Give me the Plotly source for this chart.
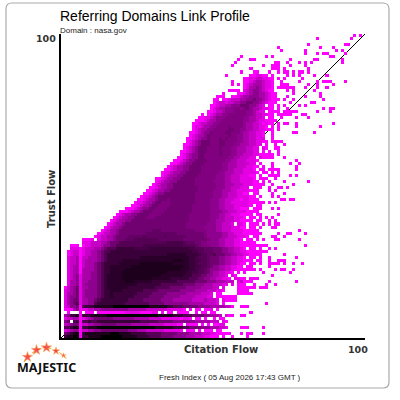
import plotly.graph_objects as go

TITLE = "Referring Domains Link Profile"
DOMAIN = "Domain : nasa.gov"
FOOT = "Fresh Index ( 05 Aug 2026 17:43 GMT )"
AXIS_MAX = 100
DIAGONAL = [0, 100]
LEVELS = {"0": 0, "1": 1, "2": 2, "3": 3, "4": 4, "5": 5, "6": 6, "7": 7, "8": 8, "9": 9, "a": 4.5, "b": 7.5, "c": 5.5, "d": 6.5}

# hand-read cells: trust flow row -> darkness digits by citation flow column,
# grouped in tens from column 0; '.' = empty; a=4.5 c=5.5 d=6.5 b=7.5
DENSE = {
86:".......... .......... .......... .......... .......... .......... ..001100..",
85:".......... .......... .......... .......... .......... .......... 0011221100",
84:".......... .......... .......... .......... .......... .......... 0012332110",
83:".......... .......... .......... .......... .......... ........0. 0123332110",
82:".......... .......... .......... .......... .......... .......... 0133432110",
81:".......... .......... .......... .......... .......... .....0000. 1234432100",
80:".......... .......... .......... .......... .......... ........00 1234433210",
79:".......... .......... .......... .......... .......... ......0012 3344433210",
78:".......... .......... .......... .......... .......... 00.0012223 3445443210",
77:".......... .......... .......... .......... .......... 0122122334 4554432100",
76:".......... .......... .......... .......... .........0 0122334445 5544321.00",
75:".......... .......... .......... .......... .........0 1233444aa4 a543321100",
74:".......... .......... .......... .......... ........00 1223444aaa a443211.00",
73:".......... .......... .......... .......... ......0.01 23344aaaaa a443221100",
72:".......... .......... .......... .......... .....00112 3444aaaaaa 4433221.00",
71:".......... .......... .......... .......... ....000123 344aaaaaaa 4433211000",
70:".......... .......... .......... .......... ...0012233 44aaaaaaaa 4332210100",
69:".......... .......... .......... .......... ...0112334 4aaaa5aaaa 43322110.0",
68:".......... .......... .......... .......... ...0123344 aaaaa55aa4 4332211000",
67:".......... .......... .......... .......... ..00123445 aaaa55aaa4 3322110...",
66:".......... .......... .......... .......... ..0123345a aaaaa5aa44 3322110...",
65:".......... .......... .......... .......... .00123445a aa5a5aaa44 3322111...",
64:".......... .......... .......... .......... .01234555a aa55aaaa44 33221100..",
63:".......... .......... .......... .......... 001234555a aa55aaa443 332211.0..",
62:".......... .......... .......... .......... 01234555aa aa5aaa4433 32211.10..",
61:".......... .......... .......... .........0 01234555aa aa5aaa4433 32211.0...",
60:".......... .......... .......... .........0 1234455aaa aa5aaa4433 2221100...",
59:".......... .......... .......... ........00 1234455aaa aaaaa44332 2211.10...",
58:".......... .......... .......... .......001 23445555aa aaaa443322 21110.....",
57:".......... .......... .......... ......0012 3445555aaa aaa4433322 2211.0....",
56:".......... .......... .......... .....01233 445555aaaa aaa4433322 21100.0...",
55:".......... .......... .......... ....001233 445555aaaa aaa4433222 1110.00...",
54:".......... .......... .......... ...0112334 455555aaaa aa44333222 11110.00..",
53:".......... .......... .......... ...0123344 55555aaaaa a444332221 1100.0....",
52:".......... .......... .......... .001233445 5555aaaaaa a444332221 1110.00...",
51:".......... .......... .......... .012334455 5555aaaaaa 4444332221 11100.0...",
50:".......... .......... .......... 0123344555 5555aaaaaa a444333222 1110000...",
49:".......... .......... .........0 0123344555 55555aaaaa a444332221 11.000....",
48:".......... .......... ........00 1233445555 55555aaaaa 4443332211 11000.....",
47:".......... .......... .......001 2344555555 5555aaaaaa 4443322211 00.00.....",
46:".......... .......... ......0112 3455555555 5555aaaaaa 4443322211 1100.0....",
45:".......... .......... .....00123 34555a5555 5555aaaaa4 4433222110 11000.....",
44:".......... .......... ....011233 455aaa5555 5555aaaaa4 4433221111 1100000...",
43:".......... .......... ...0012334 55aaaa5555 555aaaaaa4 4433222111 110.00....",
42:".......... .......... .000123445 5aaaa55555 555aaaaaa4 4433222110 00.000....",
41:".......... .........0 0012334555 aaaa555555 555aaaaaa4 4443322211 10000.....",
40:".......... ........01 233445555a aaa5555555 55aaaaaaa4 4433221110 000.00....",
39:".......... .......012 33445555aa a555555555 55aaaaaaa4 4433222111 0.00.0....",
38:".......... ......0123 3445555555 5555555555 55aaaaaaa4 4333222110 000.00....",
37:".......... .....01233 4555555555 5555555555 5aaaaaaa44 4332221.11 0.000.0...",
36:".......... ....012334 5555555555 5555555555 5aaaaaa444 4332221110 0.00.0....",
35:".......... ...0123345 5555555555 ccc5555555 5555aaaa44 4332221111 00000.....",
34:".......... ..01223345 55555555cc cccccccc55 5555555a44 4443322111 000000....",
33:".......... .012233455 55ccccc6cc cccc6ccccc c555555a44 4443322211 10.00.....",
32:".......000 1.12233455 5ccc666666 66cccccccc 55555555a4 4433222110 .00.0.....",
31:".......111 2223345556 6666666666 66666ddddd 6ccc55aa44 4433222110 0000......",
30:"...000.011 2223445566 6666666ddd dddddddddd 6666c5aaa4 4433222110 00000000..",
29:"...1110122 2334566677 7777ddddd7 7777777777 77dd666ccc 5554433221 0.00.0....",
28:"..01220122 3345667777 7777777777 7777777777 777dd66ccc 5554433221 10000000..",
27:"..01220122 3345677777 7777777777 77777bbbbb b7777d66cc 6555443322 110000....",
26:"..12230223 3345677777 777777bbbb bbbbbbbbbb bb77d666c5 5544332211 0.00.0....",
25:"..12230233 3345677777 bbbbbbbbbb bbbbbbb888 bb77dd66c5 5544332211 000.00....",
24:"..12230233 345677777b bbbbbb8888 8888888bbb bb77d666c5 5544332210 0.00.0....",
23:"..12330233 345677bbbb bbb8888888 8888888888 bb77dd66c5 4433221100 .00.......",
22:"..12330333 345677bbbb b888888888 888888888b bb77d66c54 4433221100 0000.0....",
21:"..12330333 445677bbbb 8888888888 88888bbbbb b77dd66c54 3322110.0. 0.........",
20:"..12341333 44567bbbbb 8888888888 888bbbbbbb 7776665544 33221.10.. ..........",
19:"..12341333 44567bbbbb 8888888888 bbbbbb7777 7766655443 322110.110 0.........",
18:"..13341334 44567bbbbb b888bbbbbb 7777777766 6666555544 4333222.12 ..........",
17:"..13341344 44567bbbbb bbbbb77777 7776666666 5555444333 22211.1... ..........",
16:".023451334 44567bbbbb bb77777777 7666665555 5444443333 22.1...... ..........",
15:".123451344 445677bbbb 7777777666 6655555554 4444333322 2110...... ..........",
14:".133451344 445677b777 7777766666 5555544444 4333332221 .00....... ..........",
13:".134451344 445677b777 7777666665 5555444443 3333222211 .0........ ..........",
12:".134551334 4567777777 7766666555 5554444333 3332222322 21.1...... ..........",
11:".134561334 4677777777 7666666665 5555444444 4433333222 21.0...... ..........",
10:".124450677 7888888999 9999999998 8888877666 5555544443 333322.... ..........",
9:".000340112 2334444444 4433333322 2222211111 0.0.00.001 .......... ..........",
8:"..0...0.00 0.00000000 0111110000 11.0.00.00 00..0.00.0 0......... ..........",
7:".347780777 8888899999 9999999999 9988888777 6665555443 332.1.0... ..........",
6:".122330123 4555555444 4444333332 2221111110 110.00.0.. 0.00...... ..........",
5:".45.670667 6677777777 7777776666 6655555444 4444333332 22.10..... ..........",
4:".234550223 3445555544 4443333332 2222111100 .1000.0.0. 0011...... ..........",
3:".667880778 8899999999 9999999999 9888888777 6655554443 33221..... ..........",
2:".123440223 3445555555 5544433322 2222111110 .000.0.000 .00....... ..........",
1:".567890788 8888889998 8887777766 6665555544 4433332221 10........ ..........",
0:".788990778 8889999999 8888877776 6665555444 4333222110 .......... ..........",
}

# isolated pale cells beyond the dense cloud, row: columns
SPARSE = {
99:[96,98],98:[84,95],96:[81,93,94],95:[71,85,89],94:[72,80,90,92],93:[80,84,86,87,93],
92:[59,67,69,88,89],91:[58,62,63,75,83,84,92],90:[57,70,71,74,78,80,82,92],89:[56,66,69,70,71,75,80],
88:[62,69,70,71,73,81],87:[59,63,64,68,71,73,74,76,78,79,81],86:[54,69,74,76,78,83,87],85:[71,73,79],
84:[56,72,78,84,86,87,88,93],83:[56,72,73,74,81,84,89],82:[71,72,73,74,75,76,80,84,87],81:[74,76,83],
80:[53,70,76,85],79:[51,52,53,69,70,74,80,85],78:[69,70,71,73,76,86],77:[70,75,82,83],76:[71,73,78,80],
75:[71,74,86,88,89],74:[70,71,73,74,75,76,77,84,88],73:[71,72,73,74,75,79,80],72:[69,72,77,81],71:[70],
70:[71,73,74,77,89],69:[71,77,85],68:[71],67:[69,76,77,83],66:[69],65:[69],64:[69,70,71,72],63:[70,73],
62:[70,71],61:[68,71],60:[67,68,69,71],59:[67,68,69,73],58:[77],57:[69,75,78],56:[69,77],55:[68,69,70,71,77],
54:[69,71],53:[68,69,70,71,75,77],52:[67,70],51:[68,73,81],50:[69,76],49:[68,71,72,74],48:[68,70],47:[69,73],
46:[69,71],45:[72,73,75,76],44:[68,70],42:[69,71],40:[71],39:[67,69],38:[68,70],37:[66,68,70,71],36:[69,70],
35:[78],34:[71,74,75,80],33:[69,70,73],32:[66,70,71,78],30:[80],29:[68,70],27:[73],26:[68,77],25:[68,71,72,73],
24:[68,69,70,71,73,76,79],23:[68],22:[70,72,73,76],21:[66,75],20:[69],19:[62,63,64],18:[60,61,62,68,77],17:[58,59,60,63,67,70],
16:[58,59,60,61,62,63,65,66,67],15:[58,59,60,61],14:[58,59,60,61,62],13:[52,53,54,55,56,57],12:[53,54,55,56,57],
11:[67],10:[53,54,55,56,59,60,61],9:[49,51],8:[50,62],7:[50,51,52,55,59,60],5:[49],4:[50],3:[59,60,61,66],2:[49],1:[49,50,51,52,53,54,55,59,61,62,66],0:[49,50,51,53,56,61],
}

z = [[None] * AXIS_MAX for _ in range(AXIS_MAX)]
for row, digits in DENSE.items():
    for i, ch in enumerate(digits.replace(" ", "")):
        if ch != ".":
            z[row][i] = LEVELS[ch]
for row, cols in SPARSE.items():
    for col in cols:
        if z[row][col] is None:
            z[row][col] = 0

centers = [i + 0.5 for i in range(AXIS_MAX)]

fig = go.Figure()
fig.add_trace(go.Heatmap(x=centers, y=centers, z=z, zmin=0, zmax=9, showscale=False, hoverinfo="skip",
                         colorscale=[[0, "#ff00ff"], [1, "#000000"]]))

# logo drawn on a second axis pair in figure pixels
STAR_X = [27.5, 36.5, 46.5, 56, 63.5]
STAR_Y = [357, 350, 347.5, 351, 355.5]
STAR_SIZE = [8, 8, 8, 6, 4]
ARC_X = [24, 27.5, 32, 36.5, 41, 46.5, 51, 56, 60, 64, 66.5]
ARC_Y = [362, 357, 353, 350, 348, 347.5, 348.5, 351, 353, 356, 359]
fig.add_trace(go.Scatter(x=ARC_X, y=ARC_Y, xaxis="x2", yaxis="y2", mode="lines", hoverinfo="skip",
                         line=dict(color="#f5a623", width=1, dash="dot"), showlegend=False))
fig.add_trace(go.Scatter(x=STAR_X, y=STAR_Y, xaxis="x2", yaxis="y2", mode="markers", hoverinfo="skip",
                         marker=dict(symbol="star", size=STAR_SIZE, color="#f01010", line=dict(color="#f5a623", width=0.5)),
                         showlegend=False))

def label(text, x, y, size, color="#000000", family="Liberation Sans", bold=False, angle=0, anchor="left"):
    fig.add_annotation(x=x, y=y, xref="x2", yref="y2", text=f"<b>{text}</b>" if bold else text, showarrow=False,
                       font=dict(size=size, color=color, family=family), textangle=angle,
                       xanchor=anchor, yanchor="middle", xshift=0, yshift=0)

label(TITLE, 58, 15.5, 14)
label(DOMAIN, 58, 30, 8, "#222222")
label("100", 34, 38, 9.5, "#333333", "DejaVu Sans", True)
label("Trust Flow", 51, 199, 10, "#333333", "DejaVu Sans", True, -90, "center")
label("Citation Flow", 221, 349, 10, "#333333", "DejaVu Sans", True, 0, "center")
label("100", 346, 349, 9.5, "#333333", "DejaVu Sans", True)
label(FOOT, 230, 377, 8, "#222222", anchor="center")
label("MAJESTIC", 46.5, 367, 12.5, "#111111", "Noto Sans", True, 0, "center")

fig.update_layout(
    width=400, height=400, margin=dict(l=0, r=0, t=0, b=0), paper_bgcolor="white", plot_bgcolor="rgba(0,0,0,0)",
    xaxis=dict(domain=[61 / 400, 365 / 400], range=[0, AXIS_MAX], showgrid=False, zeroline=False, showticklabels=False,
               ticks="", showline=True, linecolor="black", linewidth=2, anchor="y"),
    yaxis=dict(domain=[62 / 400, 366 / 400], range=[0, AXIS_MAX], showgrid=False, zeroline=False, showticklabels=False,
               ticks="", showline=True, linecolor="black", linewidth=2, anchor="x"),
    xaxis2=dict(domain=[0, 1], range=[0, 400], visible=False, anchor="y2"),
    yaxis2=dict(domain=[0, 1], range=[400, 0], visible=False, anchor="x2"),
    shapes=[
        dict(type="line", x0=DIAGONAL[0], y0=DIAGONAL[0], x1=DIAGONAL[1], y1=DIAGONAL[1], xref="x", yref="y",
             layer="below", line=dict(color="black", width=1)),
        dict(type="path", xref="x2", yref="y2", layer="below", line=dict(color="#aaaaaa", width=1.2),
             path="M 12 3 L 383 3 Q 389 3 389 9 L 389 382 Q 389 388 383 388 L 12 388 Q 6 388 6 382 L 6 9 Q 6 3 12 3 Z"),
    ],
)
fig.write_html("out.html", config={"displayModeBar": False},
               post_script="document.body.style.margin='0';document.body.style.overflow='hidden';")
